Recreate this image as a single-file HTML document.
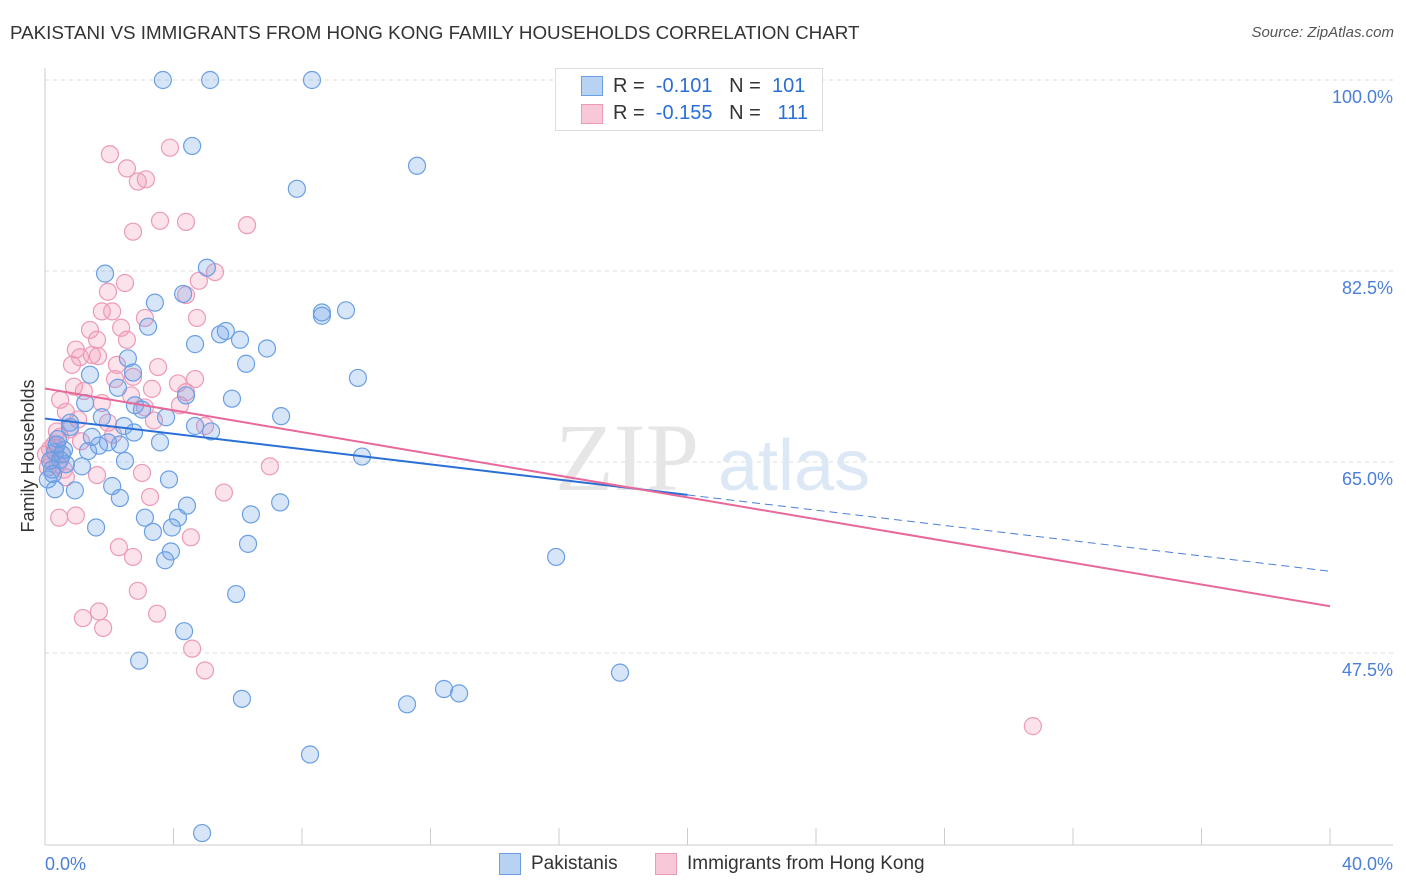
<!DOCTYPE html>
<html><head><meta charset="utf-8"><style>
body{margin:0;background:#fff;font-family:"Liberation Sans",sans-serif;}
#wrap{position:relative;width:1406px;height:892px;overflow:hidden;}
.t{position:absolute;white-space:nowrap;}
</style></head><body>
<div id="wrap">
<div class="t" style="left:10px;top:22px;font-size:18.8px;color:#333;">PAKISTANI VS IMMIGRANTS FROM HONG KONG FAMILY HOUSEHOLDS CORRELATION CHART</div>
<div class="t" style="right:12px;top:24px;font-size:15px;color:#555;font-style:italic;">Source: ZipAtlas.com</div>
<svg id="svg" width="1406" height="892" style="position:absolute;left:0;top:0"></svg>
</div>
<script>
const xTicksPct=[0,40];
const yTicks=[100,82.5,65,47.5];
const blueX=[3.67,5.14,8.31,4.58,11.58,7.84,1.87,5.04,3.42,4.30,8.62,8.62,9.37,3.21,5.63,5.45,6.07,4.67,6.91,2.58,6.26,1.40,9.74,2.27,2.74,4.39,5.82,1.25,2.80,3.02,1.77,3.77,7.35,0.78,2.46,4.67,5.17,2.77,1.46,3.58,1.68,1.96,2.33,0.59,1.34,9.87,2.49,1.15,2.09,0.93,3.86,2.33,7.32,4.42,6.41,4.14,3.11,1.59,3.95,3.36,6.32,3.92,3.74,15.91,5.95,4.33,2.93,17.90,12.42,12.89,11.27,6.13,8.25,4.89,0.31,0.47,0.22,0.09,0.31,0.53,0.37,0.65,0.16,0.25,0.40,0.78];
const blueY=[100,100,100,93.96,92.14,90.03,82.26,82.8,79.6,80.4,78.4,78.7,78.9,77.4,77.0,76.7,76.2,75.8,75.4,74.5,74.0,73.0,72.7,71.8,73.2,71.1,70.8,70.4,70.2,69.8,69.1,69.1,69.2,68.6,68.3,68.3,67.8,67.7,67.3,66.8,66.5,66.8,66.6,66.1,66.0,65.5,65.1,64.6,62.8,62.4,63.4,61.7,61.3,61.0,60.2,59.9,59.9,59.0,59.0,58.6,57.5,56.8,56.0,56.3,52.9,49.5,46.8,45.7,44.2,43.8,42.8,43.3,38.2,31.0,65.9,65.2,64.3,63.4,62.5,65.7,66.6,64.8,65.1,63.9,67.1,68.2];
const pinkX=[2.02,3.89,2.55,3.14,2.89,3.58,2.74,6.29,4.39,5.29,4.79,2.49,1.96,4.39,1.77,2.09,3.11,4.73,1.40,2.37,1.62,2.55,0.96,1.46,1.09,1.65,2.24,3.52,0.84,2.74,4.67,4.14,3.33,0.90,2.18,4.39,0.47,1.21,2.68,1.77,0.65,4.20,3.11,1.03,3.39,1.96,0.78,4.98,0.47,2.12,1.12,0.31,0.16,0.53,0.22,0.40,0.59,0.65,1.62,3.02,5.57,3.27,7.00,0.96,0.44,2.30,4.54,2.74,2.89,1.68,3.49,1.18,1.81,4.58,4.98,30.75,0.09,0.28,0.03,0.37];
const pinkY=[93.2,93.8,91.9,90.9,90.7,87.1,86.1,86.7,87.0,82.4,81.6,81.4,80.6,80.3,78.8,78.8,78.2,78.2,77.1,77.3,76.2,76.2,75.3,74.8,74.6,74.7,73.9,73.7,73.9,72.8,72.6,72.2,71.7,71.9,72.6,71.4,70.7,71.5,71.1,70.4,69.6,70.2,70.0,68.9,68.8,68.6,68.0,68.3,67.3,67.5,66.9,66.3,66.2,65.7,65.2,64.8,64.3,63.6,63.8,64.0,62.2,61.8,64.6,60.1,59.9,57.2,58.1,56.3,53.2,51.3,51.1,50.7,49.8,47.9,45.9,40.8,64.5,66.6,65.7,67.8];
const blueTrend=[68.98,54.99];
const pinkTrend=[71.73,51.78];

const X0=45,X1=1330,Y100=80,PPP=191/17.5;
const sx=v=>X0+(v/40)*(X1-X0);
const sy=v=>Y100+(100-v)*PPP;
const svg=document.getElementById('svg');
const NS='http://www.w3.org/2000/svg';
function mk(tag,attrs){const e=document.createElementNS(NS,tag);for(const k in attrs)e.setAttribute(k,attrs[k]);svg.appendChild(e);return e;}
yTicks.forEach(v=>{
 const g=mk('line',{x1:X0,x2:1393,y1:sy(v),y2:sy(v),stroke:'#ddd','stroke-dasharray':'4,4'});
 
 
 const t=mk('text',{x:1393,y:sy(v)+23,'text-anchor':'end','font-size':18,fill:'#4a7fd8','font-family':'Liberation Sans, sans-serif'});
 t.textContent=v.toFixed(1)+'%';
 
 
});
const ax=mk('line',{x1:X0,x2:1393,y1:845,y2:845,stroke:'#ccc'});


const ay=mk('line',{x1:X0,x2:X0,y1:68,y2:845,stroke:'#ccc'});


for(let i=0;i<=10;i++){
 const tk=mk('line',{x1:sx(i*4),x2:sx(i*4),y1:828,y2:845,stroke:'#ccc'});
 
 
}
xTicksPct.forEach((v,i)=>{
 const t=mk('text',{x:i==0?45:1393,y:870,'text-anchor':i==0?'start':'end','font-size':18,fill:'#4a7fd8','font-family':'Liberation Sans, sans-serif'});
 t.textContent=v.toFixed(1)+'%';
 
 
});
const wm=mk('text',{x:555,y:490,'font-size':96,fill:'#e6e6e6','font-family':'Liberation Serif, serif'});
wm.textContent='ZIP';


const wm2=mk('text',{x:718,y:490,'font-size':72,fill:'#dce8f6','font-family':'Liberation Sans, sans-serif'});
wm2.textContent='atlas';


function pts(xs,ys,fill,stroke,name){
 xs.forEach((x,i)=>{
  const c=mk('circle',{cx:sx(x),cy:sy(ys[i]),r:8.5,fill:fill,stroke:stroke,'stroke-width':1.2});
  
  
 });
}
pts(pinkX,pinkY,'rgba(244,150,180,0.28)','#ec9ab8','pink-point');
pts(blueX,blueY,'rgba(110,160,235,0.28)','#6a9fe4','blue-point');
const bt=(v)=>blueTrend[0]+(blueTrend[1]-blueTrend[0])*v/40;
const pt=(v)=>pinkTrend[0]+(pinkTrend[1]-pinkTrend[0])*v/40;
const l1=mk('line',{x1:sx(0),y1:sy(bt(0)),x2:sx(20),y2:sy(bt(20)),stroke:'#2a6fd6','stroke-width':2});


const l2=mk('line',{x1:sx(20),y1:sy(bt(20)),x2:sx(40),y2:sy(bt(40)),stroke:'#4a7fd8','stroke-width':1,'stroke-dasharray':'8,5'});


const l3=mk('line',{x1:sx(0),y1:sy(pt(0)),x2:sx(40),y2:sy(pt(40)),stroke:'#e8689a','stroke-width':2});


const yt=mk('text',{x:0,y:0,'font-size':18,fill:'#333','text-anchor':'middle',transform:'translate(34,456) rotate(-90)','font-family':'Liberation Sans, sans-serif'});
yt.textContent='Family Households';


</script>
<div class="t" style="left:555px;top:68px;width:266px;height:61px;border:1px solid #ddd;background:#fff;">
 <div class="t" style="left:25px;top:7px;width:20px;height:18px;background:#b8d2f4;border:1px solid #6a9fe4;"></div>
 <div class="t" style="left:57px;top:6px;font-size:20px;color:#333;">R = &nbsp;<span style="color:#2a6fd6">-0.101</span> &nbsp;&nbsp;N = &nbsp;<span style="color:#2a6fd6">101</span></div>
 <div class="t" style="left:25px;top:35px;width:20px;height:18px;background:#f9c8d8;border:1px solid #ec9ab8;"></div>
 <div class="t" style="left:57px;top:33px;font-size:20px;color:#333;">R = &nbsp;<span style="color:#2a6fd6">-0.155</span> &nbsp;&nbsp;N = &nbsp;&nbsp;<span style="color:#2a6fd6">111</span></div>
</div>
<div class="t" style="left:499px;top:853px;width:20px;height:20px;background:#b8d2f4;border:1px solid #6a9fe4;"></div>
<div class="t" style="left:531px;top:853px;font-size:19px;color:#333;">Pakistanis</div>
<div class="t" style="left:655px;top:853px;width:20px;height:20px;background:#f9c8d8;border:1px solid #ec9ab8;"></div>
<div class="t" style="left:687px;top:853px;font-size:19px;color:#333;">Immigrants from Hong Kong</div>
</body></html>
